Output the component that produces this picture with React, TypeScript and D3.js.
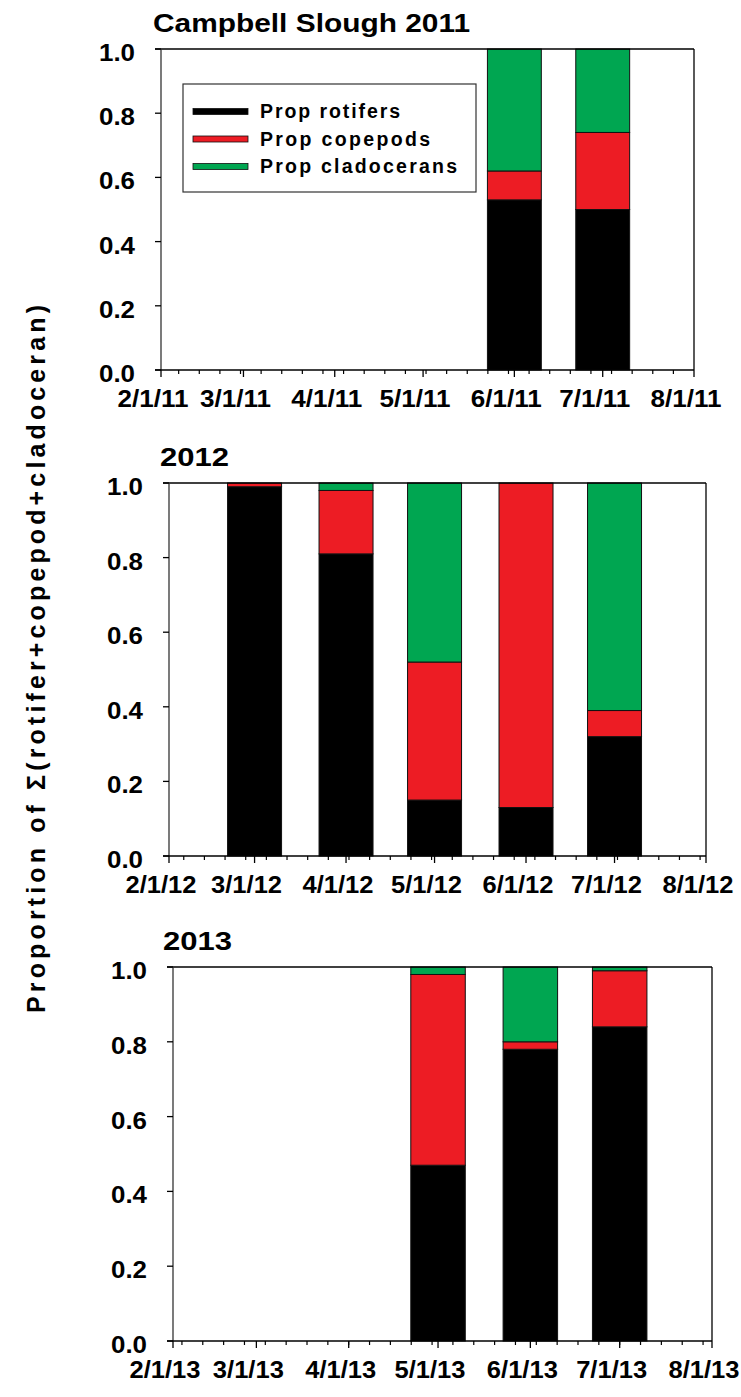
import React from "react";
import * as d3 from "d3";

// ---------- data ----------
const panelTitles = ["Campbell Slough 2011", "2012", "2013"];
const panelYears = [2011, 2012, 2013];

const dates2011 = ["2011-06-01", "2011-07-01"];
const rotifers2011 = [0.53, 0.5];
const copepods2011 = [0.09, 0.24];
const cladocerans2011 = [0.38, 0.26];

const dates2012 = ["2012-03-01", "2012-04-01", "2012-05-01", "2012-06-01", "2012-07-01"];
const rotifers2012 = [0.99, 0.81, 0.15, 0.13, 0.32];
const copepods2012 = [0.01, 0.17, 0.37, 0.87, 0.07];
const cladocerans2012 = [0.0, 0.02, 0.48, 0.0, 0.61];

const dates2013 = ["2013-05-01", "2013-06-01", "2013-07-01"];
const rotifers2013 = [0.47, 0.78, 0.84];
const copepods2013 = [0.51, 0.02, 0.15];
const cladocerans2013 = [0.02, 0.2, 0.01];

const xTickLabels2011 = ["2/1/11", "3/1/11", "4/1/11", "5/1/11", "6/1/11", "7/1/11", "8/1/11"];
const xTickLabels2012 = ["2/1/12", "3/1/12", "4/1/12", "5/1/12", "6/1/12", "7/1/12", "8/1/12"];
const xTickLabels2013 = ["2/1/13", "3/1/13", "4/1/13", "5/1/13", "6/1/13", "7/1/13", "8/1/13"];

const yTicks = [0, 0.2, 0.4, 0.6, 0.8, 1.0];
const yTickLabels = ["0.0", "0.2", "0.4", "0.6", "0.8", "1.0"];

const seriesNames = ["Prop rotifers", "Prop copepods", "Prop cladocerans"];
const seriesColors = ["#000000", "#ED1C24", "#00A651"];

const yAxisLabel = "Proportion of \u03A3(rotifer+copepod+cladoceran)";

// ---------- layout ----------
const W = 741;
const H = 1397;
const FONT = "'Liberation Sans', Arial, Helvetica, sans-serif";

const panels = [
  { left: 161, right: 694, top: 49, bottom: 370, titleX: 153, titleLen: 317 },
  { left: 169, right: 706, top: 483, bottom: 856, titleX: 160, titleLen: 69 },
  { left: 173, right: 712, top: 967, bottom: 1341, titleX: 163, titleLen: 69 },
];

const panelData = [
  { dates: dates2011, rot: rotifers2011, cop: copepods2011, clad: cladocerans2011, labels: xTickLabels2011 },
  { dates: dates2012, rot: rotifers2012, cop: copepods2012, clad: cladocerans2012, labels: xTickLabels2012 },
  { dates: dates2013, rot: rotifers2013, cop: copepods2013, clad: cladocerans2013, labels: xTickLabels2013 },
];

const parse = d3.timeParse("%Y-%m-%d");
const DAY = 864e5;
const BAR_HALF_DAYS = 9.15;

function Panel({ idx }: { idx: number }) {
  const p = panels[idx];
  const d = panelData[idx];
  const year = panelYears[idx];
  const start = new Date(year, 1, 1);
  const end = new Date(year, 7, 1);
  const x = d3.scaleTime().domain([start, end]).range([p.left, p.right]);
  const y = d3.scaleLinear().domain([0, 1]).range([p.bottom, p.top]);

  const months = d3.timeMonth.range(start, d3.timeDay.offset(end, 1));
  const weeks = d3.timeMonday.range(start, end);

  const bars = d.dates.map((ds, i) => {
    const dt = parse(ds) as Date;
    const x0 = x(new Date(dt.getTime() - BAR_HALF_DAYS * DAY));
    const x1 = x(new Date(dt.getTime() + BAR_HALF_DAYS * DAY));
    const vals = [d.rot[i], d.cop[i], d.clad[i]];
    let acc = 0;
    const segs = vals.map((v, k) => {
      const y0 = acc;
      acc += v;
      return { y0, y1: acc, k, v };
    });
    return { x0, x1, segs };
  });

  return (
    <g>
      <text
        x={p.titleX}
        y={p.top - 17}
        fontFamily={FONT}
        fontWeight="bold"
        fontSize={25}
        textLength={p.titleLen}
        lengthAdjust="spacingAndGlyphs"
        fill="#000"
      >
        {panelTitles[idx]}
      </text>

      {/* bars */}
      {bars.map((b, i) => (
        <g key={i}>
          {b.segs
            .filter((s) => s.v > 0)
            .map((s) => (
              <rect
                key={s.k}
                x={b.x0}
                width={b.x1 - b.x0}
                y={y(s.y1)}
                height={y(s.y0) - y(s.y1)}
                fill={seriesColors[s.k]}
                stroke="#111"
                strokeWidth={1}
              />
            ))}
        </g>
      ))}

      {/* frame */}
      <line x1={p.left - 6} x2={p.right} y1={p.top} y2={p.top} stroke="#000" strokeWidth={1.3} />
      <line x1={p.right} x2={p.right} y1={p.top} y2={p.bottom} stroke="#000" strokeWidth={1.3} />
      <line x1={p.left} x2={p.left} y1={p.top} y2={p.bottom} stroke="#333" strokeWidth={1.3} />
      <line x1={p.left - 6} x2={p.right} y1={p.bottom} y2={p.bottom} stroke="#000" strokeWidth={1.3} />

      {/* y ticks */}
      {yTicks.map((t, i) => (
        <g key={i}>
          <line x1={p.left - 6} x2={p.left} y1={y(t)} y2={y(t)} stroke="#000" strokeWidth={1.3} />
          <text
            x={p.left - 26}
            y={y(t) + 12}
            textAnchor="end"
            fontFamily={FONT}
            fontWeight="bold"
            fontSize={23}
            textLength={36}
            lengthAdjust="spacingAndGlyphs"
            fill="#000"
          >
            {yTickLabels[i]}
          </text>
        </g>
      ))}

      {/* x minor ticks */}
      {weeks.map((w, i) => (
        <line key={"w" + i} x1={x(w)} x2={x(w)} y1={p.bottom} y2={p.bottom + 4} stroke="#000" strokeWidth={1.2} />
      ))}
      {/* x major ticks */}
      {months.map((m, i) => (
        <g key={"m" + i}>
          <line x1={x(m)} x2={x(m)} y1={p.bottom} y2={p.bottom + 7} stroke="#000" strokeWidth={1.3} />
          <text
            x={x(m) - 8}
            y={p.bottom + 37}
            textAnchor="middle"
            fontFamily={FONT}
            fontWeight="bold"
            fontSize={23}
            textLength={71}
            lengthAdjust="spacingAndGlyphs"
            fill="#000"
          >
            {d.labels[i]}
          </text>
        </g>
      ))}
    </g>
  );
}

function Legend() {
  const bx = 183;
  const by = 84;
  const bw = 293;
  const bh = 108;
  const rowY = [111.5, 139, 166.5];
  const lens = [140, 170, 197];
  return (
    <g>
      <rect x={bx} y={by} width={bw} height={bh} fill="#fff" stroke="#333" strokeWidth={1.2} />
      {seriesNames.map((n, i) => (
        <g key={i}>
          <rect x={193} y={rowY[i] - 3} width={55} height={6} fill={seriesColors[i]} stroke="#111" strokeWidth={0.8} />
          <text
            x={260}
            y={rowY[i] + 6.5}
            fontFamily={FONT}
            fontWeight="bold"
            fontSize={19.5}
            textLength={lens[i]}
            lengthAdjust="spacing"
            fill="#000"
          >
            {n}
          </text>
        </g>
      ))}
    </g>
  );
}

export default function App() {
  return (
    <svg
      width={W}
      height={H}
      viewBox={`0 0 ${W} ${H}`}
      style={{ position: "absolute", left: 0, top: 0, background: "#fff" }}
    >
      <rect x={0} y={0} width={W} height={H} fill="#fff" />
      {panels.map((_, i) => (
        <Panel key={i} idx={i} />
      ))}
      <Legend />
      <text
        transform={`translate(45, 659) rotate(-90)`}
        textAnchor="middle"
        fontFamily={FONT}
        fontWeight="bold"
        fontSize={25}
        textLength={708}
        lengthAdjust="spacing"
        fill="#000"
      >
        {yAxisLabel}
      </text>
    </svg>
  );
}
